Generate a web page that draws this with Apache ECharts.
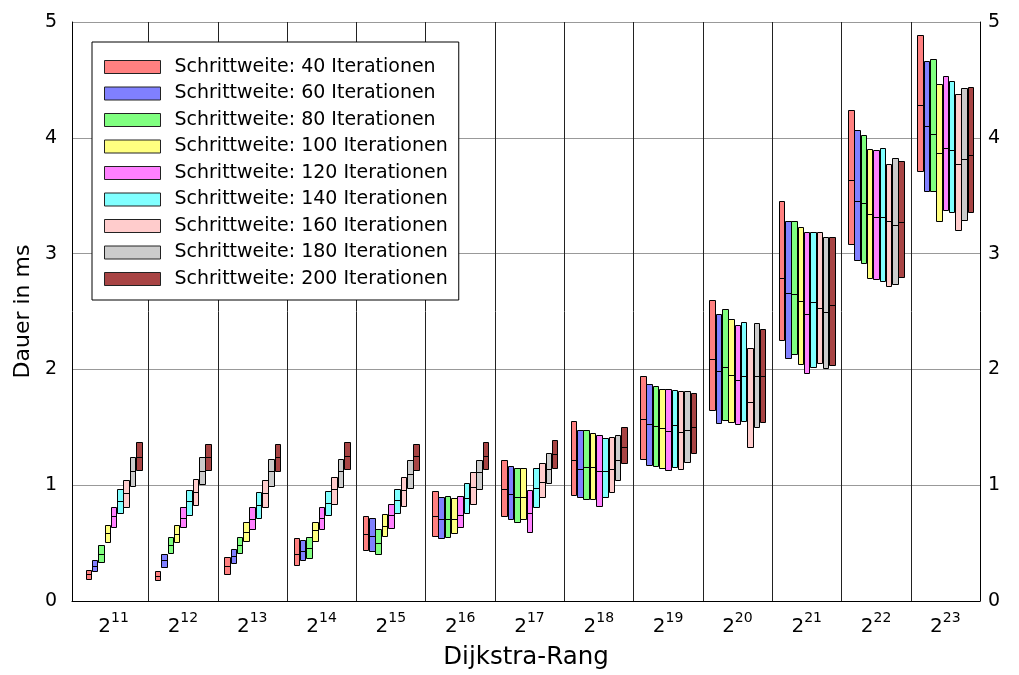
<!DOCTYPE html>
<html>
<head>
<meta charset="utf-8">
<script src="https://cdn.jsdelivr.net/npm/echarts@6/dist/echarts.min.js"></script>
<style>
  html, body { margin: 0; padding: 0; background: #fff; }
  #chart { width: 1019px; height: 675px; }
</style>
</head>
<body>
<div id="chart"></div>
<script>
// Exponents of the Dijkstra rank (2^n) on the x axis
const exponents = ['11', '12', '13', '14', '15', '16', '17', '18', '19', '20', '21', '22', '23'];

// Per step width: [min, median, max] duration in ms for each rank
const s40 = [[0.19,0.235,0.27],[0.18,0.215,0.26],[0.23,0.30,0.38],[0.31,0.41,0.54],[0.44,0.58,0.73],[0.56,0.73,0.95],[0.73,0.965,1.22],[0.917,1.217,1.552],[1.23,1.575,1.94],[1.652,2.088,2.603],[2.253,2.79,3.451],[3.084,3.634,4.238],[3.709,4.281,4.888]];
const s60 = [[0.255,0.30,0.35],[0.29,0.35,0.41],[0.33,0.39,0.45],[0.35,0.43,0.53],[0.43,0.56,0.715],[0.54,0.71,0.90],[0.71,0.92,1.165],[0.90,1.14,1.475],[1.175,1.53,1.875],[1.538,1.987,2.477],[2.096,2.661,3.279],[2.949,3.456,4.066],[3.537,4.10,4.665]];
const s80 = [[0.34,0.41,0.48],[0.415,0.48,0.555],[0.415,0.48,0.55],[0.37,0.46,0.55],[0.41,0.50,0.62],[0.55,0.71,0.91],[0.68,0.90,1.145],[0.885,1.157,1.48],[1.17,1.515,1.86],[1.566,2.025,2.52],[2.133,2.652,3.279],[2.921,3.436,4.021],[3.537,4.035,4.68]];
const s100 = [[0.51,0.59,0.66],[0.51,0.58,0.66],[0.52,0.60,0.68],[0.52,0.61,0.68],[0.56,0.65,0.75],[0.59,0.71,0.89],[0.71,0.90,1.15],[0.885,1.157,1.45],[1.15,1.495,1.83],[1.546,1.953,2.431],[2.045,2.589,3.233],[2.79,3.342,3.90],[3.284,3.872,4.467]];
const s120 = [[0.64,0.73,0.81],[0.64,0.72,0.81],[0.62,0.71,0.81],[0.62,0.72,0.81],[0.63,0.74,0.84],[0.64,0.745,0.91],[0.60,0.76,0.96],[0.82,1.12,1.437],[1.13,1.47,1.83],[1.529,1.91,2.382],[1.967,2.477,3.185],[2.778,3.319,3.894],[3.376,3.909,4.536]];
const s140 = [[0.76,0.86,0.965],[0.74,0.86,0.96],[0.715,0.83,0.94],[0.745,0.85,0.95],[0.76,0.87,0.97],[0.76,0.89,1.02],[0.81,0.98,1.15],[0.90,1.12,1.41],[1.157,1.518,1.824],[1.552,1.947,2.411],[2.019,2.583,3.185],[2.764,3.313,3.909],[3.362,3.894,4.493]];
const s160 = [[0.81,0.93,1.045],[0.83,0.94,1.05],[0.81,0.93,1.045],[0.84,0.965,1.07],[0.82,0.955,1.07],[0.84,0.985,1.11],[0.90,1.03,1.19],[0.945,1.137,1.418],[1.137,1.458,1.81],[1.332,1.715,2.182],[2.053,2.526,3.19],[2.718,3.284,3.778],[3.204,3.771,4.381]];
const s180 = [[0.99,1.12,1.24],[1.01,1.12,1.24],[0.99,1.12,1.23],[0.985,1.12,1.23],[0.98,1.10,1.22],[0.965,1.11,1.22],[1.02,1.14,1.28],[1.045,1.217,1.437],[1.20,1.48,1.815],[1.503,1.944,2.403],[2.01,2.497,3.147],[2.741,3.25,3.829],[3.29,3.82,4.43]];
const s200 = [[1.13,1.24,1.37],[1.13,1.24,1.36],[1.12,1.24,1.36],[1.14,1.25,1.37],[1.13,1.25,1.36],[1.14,1.25,1.375],[1.15,1.27,1.39],[1.188,1.33,1.50],[1.28,1.50,1.80],[1.544,1.939,2.345],[2.039,2.554,3.142],[2.798,3.276,3.80],[3.356,3.849,4.439]];

const seriesNames = [
  'Schrittweite: 40 Iterationen', 'Schrittweite: 60 Iterationen', 'Schrittweite: 80 Iterationen',
  'Schrittweite: 100 Iterationen', 'Schrittweite: 120 Iterationen', 'Schrittweite: 140 Iterationen',
  'Schrittweite: 160 Iterationen', 'Schrittweite: 180 Iterationen', 'Schrittweite: 200 Iterationen'
];
const seriesValues = [s40, s60, s80, s100, s120, s140, s160, s180, s200];
const colors = ['#ff8080', '#8080ff', '#80ff80', '#ffff80', '#ff80ff', '#80ffff', '#ffcccc', '#cccccc', '#a84444'];

const FONT = "'DejaVu Sans', sans-serif";
const STEP = 0.091;      // horizontal spacing between neighbouring boxes (x units)
const HALF_W = 0.04;     // half box width (x units)
const Y_MAX = 5;

function snap(v) { return Math.round(v) + 0.5; }

function boxSeries(name, values, color, j) {
  const off = (j - (seriesValues.length - 1) / 2) * STEP;
  return {
    name: name,
    type: 'custom',
    itemStyle: { color: color, borderColor: '#000', borderWidth: 1 },
    z: 3,
    encode: { x: 0, y: [1, 2, 3] },
    data: values.map((t, i) => [i, t[0], t[1], t[2]]),
    renderItem: function (params, api) {
      const xc = api.value(0) + off;
      const a = api.coord([xc - HALF_W, api.value(3)]);
      const b = api.coord([xc + HALF_W, api.value(1)]);
      const m = api.coord([xc, api.value(2)]);
      const x0 = snap(a[0]), x1 = snap(b[0]), y0 = snap(a[1]), y1 = snap(b[1]), ym = snap(m[1]);
      return {
        type: 'group',
        children: [
          { type: 'rect', shape: { x: x0, y: y0, width: x1 - x0, height: y1 - y0 },
            style: { fill: color, stroke: '#000', lineWidth: 1 } },
          { type: 'line', shape: { x1: x0, y1: ym, x2: x1, y2: ym },
            style: { stroke: '#000', lineWidth: 1 } }
        ]
      };
    }
  };
}

// Vertical lines separating the rank groups
const separatorSeries = {
  name: 'sep',
  type: 'custom',
  silent: true,
  z: 1,
  encode: { x: 0, y: 1 },
  data: exponents.slice(1).map((_, i) => [i + 0.5, 0]),
  renderItem: function (params, api) {
    const p0 = api.coord([api.value(0), 0]);
    const p1 = api.coord([api.value(0), Y_MAX]);
    const x = snap(p0[0]);
    return { type: 'line', shape: { x1: x, y1: p0[1], x2: x, y2: p1[1] },
             style: { stroke: '#222', lineWidth: 1 } };
  }
};

const chart = echarts.init(document.getElementById('chart'), null, { renderer: 'canvas' });

chart.setOption({
  backgroundColor: '#fff',
  animation: false,
  textStyle: { fontFamily: FONT },
  grid: { left: 72, right: 39, top: 22, bottom: 71, containLabel: false },
  legend: {
    left: 92, top: 42,
    orient: 'vertical',
    backgroundColor: '#fff',
    borderColor: '#000', borderWidth: 1,
    padding: [15, 11, 11, 12],
    itemWidth: 56, itemHeight: 13, itemGap: 6.5,
    icon: 'rect',
    z: 10,
    textStyle: { fontFamily: FONT, fontSize: 19, lineHeight: 20, color: '#000', padding: [0, 0, 0, 9] },
    data: seriesNames.map((n, j) => ({
      name: n,
      itemStyle: { color: colors[j], borderColor: '#222', borderWidth: 1 }
    }))
  },
  xAxis: {
    type: 'value',
    min: -0.6, max: 12.5,
    name: 'Dijkstra-Rang',
    nameLocation: 'middle',
    nameGap: 44,
    nameTextStyle: { fontFamily: FONT, fontSize: 24.5, color: '#000' },
    axisLine: { show: true, onZero: false, lineStyle: { color: '#000', width: 1 } },
    axisTick: { show: false },
    splitLine: { show: false },
    axisLabel: {
      customValues: exponents.map((_, i) => i),
      margin: 10,
      formatter: v => '{b|2}{s|' + exponents[Math.round(v)] + '}',
      rich: {
        b: { fontFamily: FONT, fontSize: 20, color: '#000', lineHeight: 26, verticalAlign: 'bottom' },
        s: { fontFamily: FONT, fontSize: 14, color: '#000', lineHeight: 14, verticalAlign: 'top' }
      }
    }
  },
  yAxis: [
    {
      type: 'value', min: 0, max: Y_MAX, interval: 1, position: 'left',
      name: 'Dauer in ms', nameLocation: 'middle', nameGap: 36,
      nameTextStyle: { fontFamily: FONT, fontSize: 22, color: '#000' },
      axisLine: { show: true, onZero: false, lineStyle: { color: '#000', width: 1 } },
      axisTick: { show: false },
      splitLine: { show: true, lineStyle: { color: '#999', width: 1 } },
      axisLabel: { fontFamily: FONT, fontSize: 19, color: '#000', margin: 15 }
    },
    {
      type: 'value', min: 0, max: Y_MAX, interval: 1, position: 'right',
      axisLine: { show: true, onZero: false, lineStyle: { color: '#000', width: 1 } },
      axisTick: { show: false },
      splitLine: { show: false },
      axisLabel: { fontFamily: FONT, fontSize: 19, color: '#000', margin: 8 }
    }
  ],
  series: [separatorSeries].concat(seriesValues.map((v, j) => boxSeries(seriesNames[j], v, colors[j], j)))
});
</script>
</body>
</html>
